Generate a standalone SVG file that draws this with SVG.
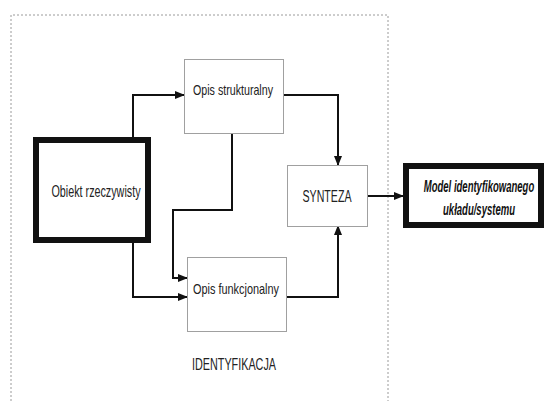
<svg xmlns="http://www.w3.org/2000/svg" width="544" height="401" viewBox="0 0 544 401">
<style>
.frame{fill:none;stroke:#9a9a9a;stroke-width:1;stroke-dasharray:2,2}
.box{fill:#fff;stroke:#a0a0a0;stroke-width:1}
.thick{fill:#fff;stroke:#111;stroke-width:6}
.conn{fill:none;stroke:#111;stroke-width:2;marker-end:url(#ah)}
.t{font-family:"Liberation Sans",Arial,sans-serif;font-size:16px;fill:#222;text-anchor:middle}
.s{font-size:15px}
.b{font-family:"Liberation Sans",Arial,sans-serif;font-size:17px;font-weight:bold;font-style:italic;fill:#111;text-anchor:middle}
</style>
<defs>
<marker id="ah" markerWidth="10" markerHeight="8" refX="9" refY="4" orient="auto" markerUnits="userSpaceOnUse">
<path d="M0,0 L10,4 L0,8 Z" fill="#111"/>
</marker>
</defs>
<path class="frame" d="M11,401 V15 H388 V401"/>
<text class="t" x="234" y="370" textLength="84" lengthAdjust="spacingAndGlyphs">IDENTYFIKACJA</text>
<g id="connectors">
<path class="conn" d="M133,137 V95 H184"/>
<path class="conn" d="M133,243 V297 H187"/>
<path class="conn" d="M232,133 V210 H173 V278 H187"/>
<path class="conn" d="M283,95 H338 V165"/>
<path class="conn" d="M286,297 H338 V226"/>
<path class="conn" d="M367,196 H403"/>
</g>
<g id="obiekt">
<rect class="thick" x="36" y="140" width="112" height="100"/>
<text class="t" x="96" y="197" textLength="89" lengthAdjust="spacingAndGlyphs">Obiekt rzeczywisty</text>
</g>
<g id="opis-strukturalny">
<rect class="box" x="184.5" y="59.5" width="99" height="74"/>
<text class="t s" x="233" y="95" textLength="80" lengthAdjust="spacingAndGlyphs">Opis strukturalny</text>
</g>
<g id="opis-funkcjonalny">
<rect class="box" x="187.5" y="257.5" width="99" height="74"/>
<text class="t s" x="236" y="294" textLength="86" lengthAdjust="spacingAndGlyphs">Opis funkcjonalny</text>
</g>
<g id="synteza">
<rect class="box" x="287.5" y="165.5" width="80" height="61"/>
<text class="t" x="327" y="202" textLength="49" lengthAdjust="spacingAndGlyphs">SYNTEZA</text>
</g>
<g id="model">
<rect class="thick" x="406" y="166" width="135" height="59"/>
<g transform="translate(479,0) scale(0.56,1)">
<text class="b" x="0" y="192">Model identyfikowanego</text>
<text class="b" x="0" y="215">układu/systemu</text>
</g>
</g>
</svg>
